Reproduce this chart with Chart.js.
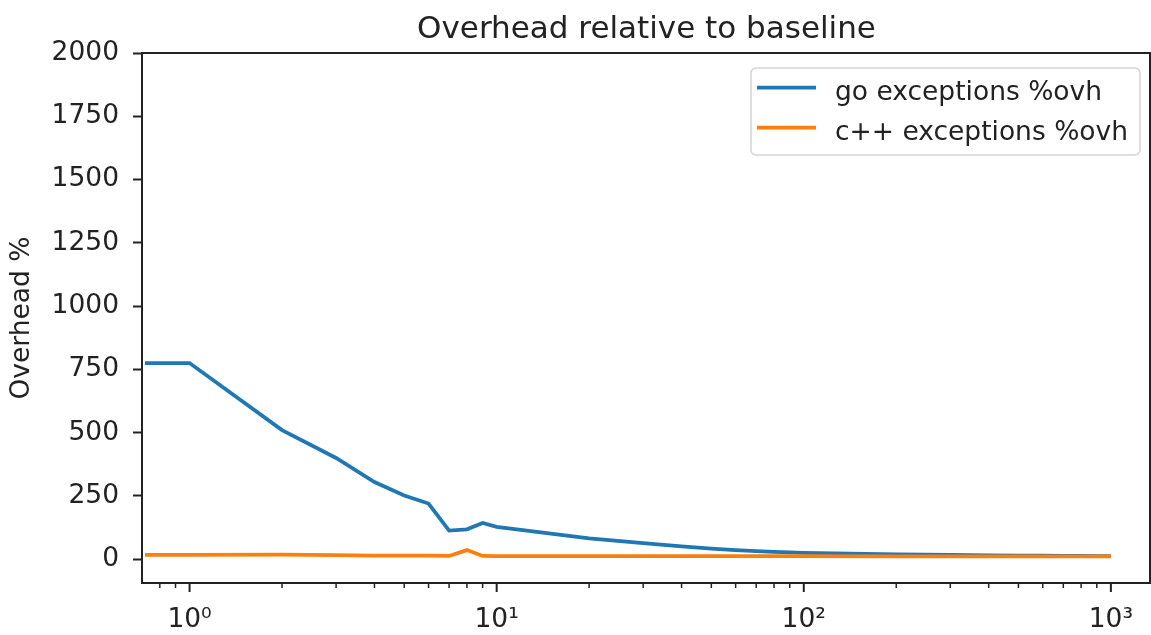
<!DOCTYPE html>
<html>
<head>
<meta charset="utf-8">
<script src="https://cdn.jsdelivr.net/npm/chart.js@4/dist/chart.umd.min.js"></script>
<style>
  html, body { margin: 0; padding: 0; background: #fff; }
  #wrap { width: 1151px; height: 635px; }
</style>
</head>
<body>
<div id="wrap"><canvas id="ovhChart"></canvas></div>
<script>
// number of exceptions thrown; x = 0 sits on the left edge (log axis clips it)
const iterations = [0, 1, 2, 3, 4, 5, 6, 7, 8, 9, 10, 20, 30, 40, 50, 60, 70, 80, 90, 100,
                    200, 300, 400, 500, 600, 700, 800, 900, 1000];
const goOverhead = [775, 775, 510, 400, 305, 252, 220, 113, 118, 143, 128, 82, 64, 51, 42, 36, 32, 29, 27, 25,
                    19, 17, 15, 14, 14, 13, 13, 12, 12];
const cppOverhead = [17, 17, 18, 16, 14, 14, 14, 13, 36, 13, 12, 12, 12, 12, 12, 12, 12, 12, 12, 12,
                     11, 11, 11, 11, 11, 11, 11, 11, 11];
const seriesLabels = ['go exceptions %ovh', 'c++ exceptions %ovh'];
const seriesColors = ['#1f77b4', '#ff7f0e'];
const yTicks = [0, 250, 500, 750, 1000, 1250, 1500, 1750, 2000];
const xTickLabels = { 1: '10\u2070', 10: '10\u00b9', 100: '10\u00b2', 1000: '10\u00b3' };
const chartTitle = 'Overhead relative to baseline';

const xMin = 0.716, xMax = 1351;
const yMin = -94, yMax = 2000;
const FONT = '"DejaVu Sans", sans-serif';
const INK = '#222';
const LABEL_PX = 26.5;

function toPoints(values) {
    return iterations.map(function(x, i) {
        return { x: x === 0 ? xMin : x, y: values[i] };
    });
}

// title over the axes, spines, x tick marks and the boxed legend, drawn the matplotlib way
const framePlugin = {
    id: 'frame',
    afterDraw: function(chart) {
        const ctx = chart.ctx;
        const a = chart.chartArea;
        const xs = chart.scales.x;
        ctx.save();

        ctx.font = '31px ' + FONT;
        ctx.fillStyle = INK;
        ctx.textAlign = 'center';
        ctx.textBaseline = 'alphabetic';
        ctx.fillText(chartTitle, (a.left + a.right) / 2, a.top - 15);
        ctx.textAlign = 'left';

        ctx.strokeStyle = INK;
        xs.ticks.forEach(function(t) {
            const px = xs.getPixelForValue(t.value);
            ctx.lineWidth = t.major ? 2 : 1.5;
            ctx.beginPath();
            ctx.moveTo(px, a.bottom);
            ctx.lineTo(px, a.bottom + (t.major ? 9 : 5));
            ctx.stroke();
        });
        ctx.lineWidth = 2;
        ctx.strokeRect(a.left, a.top, a.right - a.left - 1, a.bottom - a.top);

        // legend
        ctx.font = LABEL_PX + 'px ' + FONT;
        const sets = chart.data.datasets;
        const textW = Math.max.apply(null, sets.map(function(d) { return ctx.measureText(d.label).width; }));
        const boxW = 84 + textW + 12, boxH = 87;
        const boxLeft = a.right - 11 - boxW, boxTop = a.top + 15;
        ctx.beginPath();
        ctx.roundRect(boxLeft, boxTop, boxW, boxH, 5);
        ctx.fillStyle = 'rgba(255,255,255,0.8)';
        ctx.fill();
        ctx.strokeStyle = '#d4d4d4';
        ctx.lineWidth = 1.5;
        ctx.stroke();
        sets.forEach(function(d, i) {
            const cy = boxTop + 19.5 + i * 40;
            ctx.strokeStyle = d.borderColor;
            ctx.lineWidth = 3.75;
            ctx.beginPath();
            ctx.moveTo(boxLeft + 6, cy);
            ctx.lineTo(boxLeft + 65, cy);
            ctx.stroke();
            ctx.fillStyle = INK;
            ctx.fillText(d.label, boxLeft + 84, cy + 12);
        });
        ctx.restore();
    }
};

new Chart(document.getElementById('ovhChart'), {
    type: 'line',
    data: {
        datasets: [{
            label: seriesLabels[0],
            data: toPoints(goOverhead),
            borderColor: seriesColors[0],
            borderWidth: 3.75,
            pointRadius: 0,
            tension: 0,
            order: 2
        }, {
            label: seriesLabels[1],
            data: toPoints(cppOverhead),
            borderColor: seriesColors[1],
            borderWidth: 3.75,
            pointRadius: 0,
            tension: 0,
            order: 1
        }]
    },
    options: {
        responsive: true,
        maintainAspectRatio: false,
        animation: false,
        layout: { padding: { top: 53, left: 0, right: 0, bottom: 0 } },
        plugins: {
            legend: { display: false },
            tooltip: { enabled: false },
            title: { display: false }
        },
        scales: {
            x: {
                type: 'logarithmic',
                min: xMin,
                max: xMax,
                grid: { display: false },
                border: { display: false },
                afterFit: function(s) { s.height = 52; },
                afterBuildTicks: function(s) {
                    const ticks = [];
                    for (let e = -1; e <= 3; e++) {
                        for (let m = 1; m <= 9; m++) {
                            const v = m * Math.pow(10, e);
                            if (v >= xMin && v <= xMax) ticks.push({ value: v, major: m === 1 });
                        }
                    }
                    s.ticks = ticks;
                },
                ticks: {
                    autoSkip: false,
                    maxRotation: 0,
                    padding: 13,
                    color: INK,
                    font: { family: FONT, size: LABEL_PX },
                    callback: function(v) { return xTickLabels[v] || ''; }
                }
            },
            y: {
                min: yMin,
                max: yMax,
                border: { display: false },
                grid: { drawOnChartArea: false, tickLength: 9, tickWidth: 2, tickColor: INK },
                afterFit: function(s) { s.width = 142; },
                afterBuildTicks: function(s) {
                    s.ticks = yTicks.map(function(v) { return { value: v }; });
                },
                ticks: {
                    padding: 14,
                    color: INK,
                    font: { family: FONT, size: LABEL_PX },
                    callback: function(v) { return String(v); }
                },
                title: {
                    display: true,
                    text: 'Overhead %',
                    color: INK,
                    font: { family: FONT, size: LABEL_PX },
                    padding: { top: 6, bottom: 0 }
                }
            }
        }
    },
    plugins: [framePlugin]
});
</script>
</body>
</html>
